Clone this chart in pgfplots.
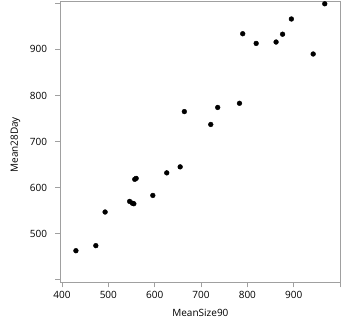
\documentclass[border=0pt]{standalone}
\usepackage{pgfplots}
\pgfplotsset{compat=1.18}
\usepackage{fontspec}
\setmainfont{Open Sans}
\definecolor{axgray}{RGB}{160,160,160}
\begin{document}
\fontsize{10bp}{12bp}\selectfont
\begin{tikzpicture}
\begin{axis}[
  name=ax,
  scale only axis,
  width=280.2bp, height=281bp,
  xmin=396.3, xmax=1001,
  ymin=394, ymax=1004,
  axis line style={draw=axgray, line width=1bp},
  every tick/.style={draw=axgray, line width=1bp},
  tick align=outside,
  major tick length=5bp,
  xtick pos=bottom, ytick pos=left,
  xtick={400,500,600,700,800,900,1000},
  xticklabels={400,500,600,700,800,900,},
  ytick={400,500,600,700,800,900,1000},
  yticklabels={,500,600,700,800,900,},
  /pgf/number format/assume math mode=true,
  xticklabel style={font=\fontsize{10bp}{12bp}\selectfont, text=black},
  yticklabel style={font=\fontsize{10bp}{12bp}\selectfont, text=black, inner sep=0pt, xshift=-8bp},
  xlabel={MeanSize90},
  ylabel={Mean28Day},
  x label style={at={(axis description cs:0.5,0)}, anchor=base, yshift=-34bp, font=\fontsize{10bp}{12bp}\selectfont},
  y label style={at={(axis description cs:-0.151,0.49)}, anchor=base, font=\fontsize{10bp}{12bp}\selectfont},
  clip=false,
]
\addplot[only marks, mark=*, mark size=2.4bp, black] coordinates {
(430,463) (473,474) (493,547) (546,570) (552,566) (555,565)
(557,618) (560,620) (596,583) (626,632) (655,645) (664,765)
(721,737) (736,774) (783,783) (790,934) (819,913) (862,916)
(876,933) (895,966) (942,890) (967,999)
};
\end{axis}
\pgfresetboundingbox
\useasboundingbox ([shift={(-60.3bp,-39.5bp)}]ax.south west) rectangle ([shift={(1.5bp,1.5bp)}]ax.north east);
\end{tikzpicture}
\end{document}
